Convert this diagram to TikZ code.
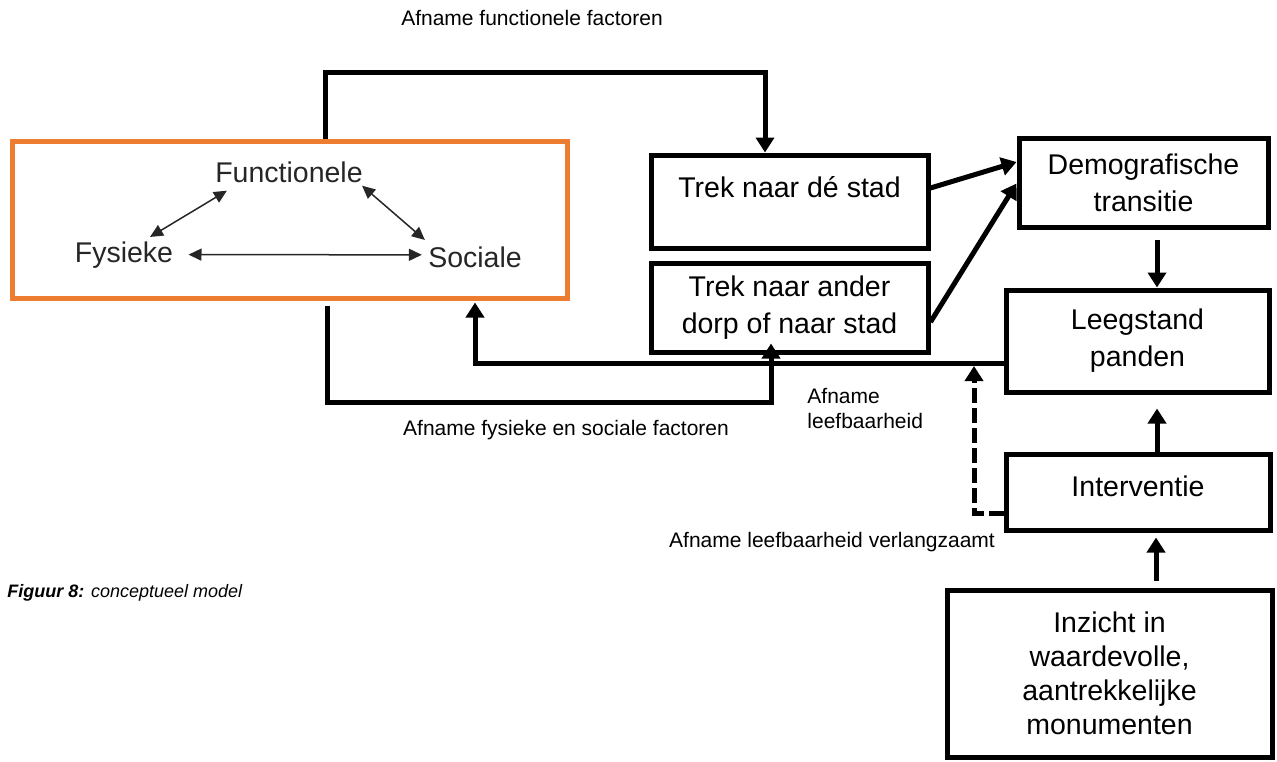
\documentclass[tikz,border=0pt]{standalone}
\usepackage{fontspec}
\setmainfont{Liberation Sans}
\usetikzlibrary{arrows.meta,calc}
\definecolor{orangec}{HTML}{ED7D31}
\begin{document}
\begin{tikzpicture}[x=0.5pt,y=-0.5pt,
  box/.style={draw, line width=2.5pt, inner sep=0pt, align=center, font=\fontsize{14.25}{18.5}\selectfont},
  arr/.style={line width=2.5pt, -{Triangle[length=7.5pt,width=9pt]}},
  dbl/.style={draw=black!85, line width=0.75pt, {Triangle[length=6.5pt,width=6pt]}-{Triangle[length=6.5pt,width=6pt]}},
  lbl/.style={font=\fontsize{10.5}{12.5}\selectfont, inner sep=0pt},
  trilabel/.style={font=\fontsize{14.25}{17}\selectfont, inner sep=0pt, text=black!85}]
\useasboundingbox (0,0) rectangle (1277,761);

% orange frame
\node[draw=orangec, line width=2.5pt, minimum width=277.5pt, minimum height=78.5pt, inner sep=0pt] (orange) at (289.5,219.5) {};
\node[trilabel, anchor=base] (func) at (289,182) {Functionele};
\node[trilabel, anchor=base] (fys) at (124,262) {Fysieke};
\node[trilabel, anchor=base] (soc) at (475,267) {Sociale};
\draw[dbl] ($(fys.north)+(26,-4)$) -- ($(func.south west)+(12,8)$);
\draw[dbl] ($(func.south east)+(-1,3)$) -- ($(soc.north west)+(-3,-6)$);
\draw[dbl] ($(fys.east)+(15,0)$) -- ($(soc.west)+(-6,-2)$);

% boxes
\node[box, minimum width=138.5pt, minimum height=46.5pt] (trek1) at (789.5,201.5) {\raisebox{2.25pt}[0pt][0pt]{Trek naar dé stad}};
\node[box, minimum width=138.5pt, minimum height=44.5pt] (trek2) at (789.5,307.5) {Trek naar ander\\dorp of naar stad};
\node[box, minimum width=124.5pt, minimum height=44.5pt] (demo) at (1143.5,182.5) {Demografische\\transitie};
\node[box, minimum width=131.5pt, minimum height=51pt] (leeg) at (1137.5,341) {Leegstand\\panden};
\node[box, minimum width=132pt, minimum height=38pt] (interv) at (1138,492) {\raisebox{-2pt}[0pt][0pt]{Interventie}};
\node[box, minimum width=162.5pt, minimum height=83.5pt, font=\fontsize{14.25}{17}\selectfont] (inzicht) at (1109.5,673.5) {Inzicht in\\waardevolle,\\aantrekkelijke\\monumenten};

% labels
\node[lbl] (t1) at (532,18) {Afname functionele factoren};
\node[lbl, anchor=base] (t2) at (566,435) {Afname fysieke en sociale factoren};
\node[lbl, anchor=north west, align=left] (t3) at (807,388) {Afname\\leefbaarheid};
\node[lbl, anchor=base] (t4) at (832,547) {Afname leefbaarheid verlangzaamt};
\node[font=\fontsize{9}{11}\selectfont, anchor=base west, inner sep=0pt] (cap) at (7,597) {\textbf{\textit{Figuur 8:}} \textit{conceptueel model}};

% connectors
\draw[arr] ($(orange.north)+(35.5,0)$) -- ++(0,-66) -| ($(trek1.north)+(-24.5,0)$);
\draw[arr] ($(trek1.east)+(0,-13.5)$) -- ($(demo.west)+(0,-20.5)$);
\draw[arr] ($(trek2.east)+(0,14.5)$) -- ($(demo.west)+(0,1)$);
\coordinate (d1) at ($(demo.south)+(13.5,10)$);
\draw[arr] (d1) -- (d1 |- leeg.north);
\draw[arr] ($(leeg.west)+(0,22)$) -| ($(orange.south)+(185.5,2)$);
\draw[arr] ($(orange.south)+(37.5,5)$) -- ++(0,97) -| ($(trek2.south)+(-18.5,-11)$);
\draw[arr] ($(interv.north)+(19,0)$) -- ($(leeg.south)+(19.5,14)$);
\draw[arr] ($(inzicht.north)+(46.5,-7)$) -- ($(interv.south)+(18,5)$);
\coordinate (dashend) at (974,366);
\draw[arr, dash pattern=on 7.5pt off 2.5pt] ($(interv.west)+(0,21)$) -| (dashend);
\end{tikzpicture}
\end{document}
